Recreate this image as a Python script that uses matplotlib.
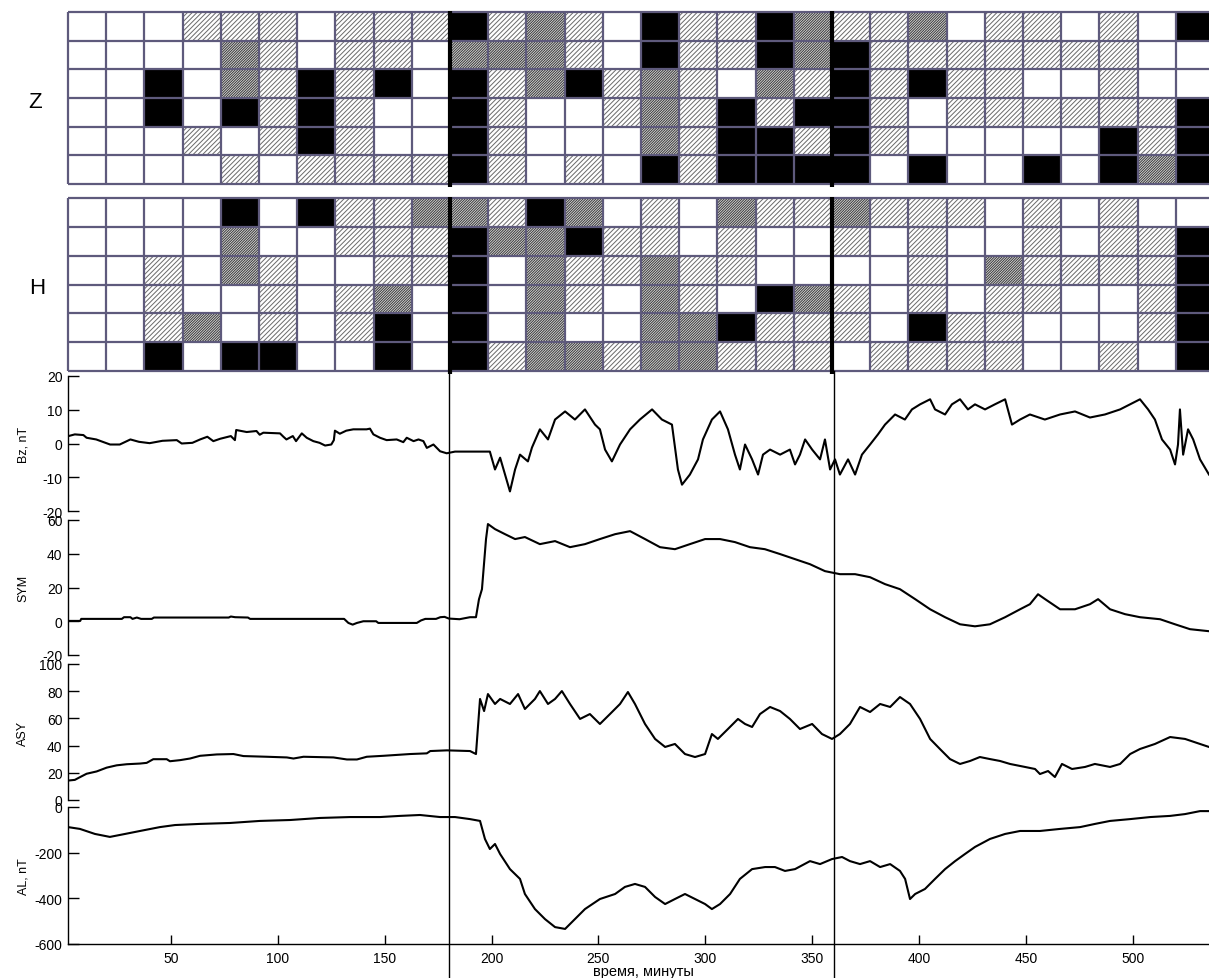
import matplotlib
matplotlib.use('Agg')
import matplotlib.pyplot as plt
from matplotlib.patches import Rectangle
from matplotlib.lines import Line2D

plt.rcParams['font.family'] = ['Liberation Sans', 'DejaVu Sans']
plt.rcParams['hatch.linewidth'] = 0.7
plt.rcParams['axes.unicode_minus'] = False

# cell levels per 18-min bin: 0 empty, 1 hatched, 2 dense hatched, 3 black
z_cells = [
    "000111011131210311321120110103",
    "000021011022210311323111111100",
    "003021313031231210213131100100",
    "003031310031001213133101111113",
    "000101310031000213313100000313",
    "000010111131010313333030030323",
]
h_cells = [
    "000030311221320102112111010100",
    "000020011132231101001010010113",
    "001021001130211211000010211113",
    "001001012030210210321010110013",
    "001201013030200223111031100013",
    "003033003031221221110111100103",
]

# (minute, value)
bz = [(2, 2.2), (5, 2.7), (9, 2.5), (10.5, 1.7), (15, 1.2), (21.5, -0.3), (26, -0.3),
      (31, 1.2), (35, 0.5), (40, 0.1), (46, 0.8), (52.7, 1.0), (55, 0), (60, 0.2),
      (63.6, 1.2), (67, 2.0), (69.8, 0.7), (73, 1.4), (78, 2.2), (79.9, 1.0), (80.5, 4.0),
      (85.4, 3.4), (90, 3.7), (91.5, 2.6), (93.2, 3.2), (101, 3.0), (102.6, 2.0), (104, 1.2),
      (107, 2.2), (108.5, 0.7), (111.2, 3.0), (113.5, 1.7), (116.6, 0.7), (119.5, 0.2),
      (122.1, -0.6), (125, -0.3), (126.2, 1.0), (126.7, 3.8), (129, 2.9), (132, 3.8),
      (135.3, 4.2), (141.5, 4.2), (143.1, 4.4), (144.7, 2.7), (147.8, 1.7), (150.9, 1.0),
      (155.6, 1.2), (158.7, 0.4), (160.3, 1.7), (163.5, 0.7), (165.8, 1.2), (168.1, 0.7),
      (169.7, -1.3), (172.8, -0.3), (175.9, -2.3), (179, -2.9), (182.9, -2.4), (199.2, -2.4),
      (201.6, -7.7), (204, -4.2), (206.3, -9.2), (208.6, -14.2), (211, -7.7), (213.3, -3.3),
      (217, -5.3), (218.9, -1.2), (222.6, 4.2), (226.4, 1.2), (229.7, 7.1), (234.4, 9.5),
      (239, 7.1), (243.7, 10.1), (248.4, 5.6), (250.7, 4.2), (253.1, -1.8), (256.3, -5.3),
      (260.1, -0.3), (264.8, 4.2), (269.4, 7.1), (275.1, 10.1), (279.7, 7.1), (284.4, 5.6),
      (287.2, -7.7), (289.1, -12.2), (292.8, -9.2), (296.6, -4.7), (298.9, 1.2), (303.1, 7.1),
      (306.9, 9.5), (310.6, 4.2), (313.9, -3.3), (316.2, -7.7), (318.6, -0.3), (321.9, -4.7),
      (324.7, -9.2), (327, -3.3), (330.3, -1.8), (335, -3.3), (339.6, -1.8), (342, -6.2),
      (344.3, -3.3), (346.7, 1.2), (350, -1.8), (353.7, -4.7), (356, 1.2), (358.4, -7.7),
      (360.7, -4.7), (363, -9.2), (366.8, -4.7), (370.1, -9.2), (373.3, -3.3), (377.1, -0.3),
      (380.8, 2.7), (384.1, 5.6), (388.8, 8.6), (393.4, 7.1), (396.7, 10.1), (400.5, 11.6),
      (405.2, 13.1), (407.5, 10.1), (412.2, 8.6), (415.4, 11.6), (419.2, 13.1), (422.9, 10.1),
      (426.2, 11.6), (430.9, 10.1), (435.5, 11.6), (440.3, 13.1), (443.5, 5.6), (447.3, 7.1),
      (451.9, 8.6), (458.9, 7.1), (466, 8.6), (473, 9.5), (480, 7.7), (487, 8.6), (494.1, 10.1),
      (498.8, 11.6), (503.4, 13.1), (507.2, 10.1), (510.4, 7.1), (513.7, 1.2), (517.5, -1.8),
      (519.8, -6.2), (521.2, -0.3), (522.1, 10.1), (523.6, -3.3), (525.9, 4.2), (528.3, 1.2),
      (531.5, -4.7), (535.7, -9.2)]

sym = [(2, 0.2), (7.5, 0.2), (8, 1.4), (27, 1.4), (28, 2.4), (31, 2.4), (32, 1.4), (34, 2.2),
       (36, 1.4), (41, 1.4), (42, 2.2), (77, 2.2), (78, 2.8), (80, 2.4), (86, 2.2), (87, 1.4),
       (131, 1.4), (133, -1), (135, -2), (137, -1), (140, 0), (146, 0), (147, -1), (165, -1),
       (167, 0.5), (169, 1.4), (174, 1.4), (176, 2.4), (178, 2.6), (180, 1.6), (185, 1.2),
       (189.9, 2.4), (192.7, 2.4), (194.1, 13), (195.5, 19), (197.4, 48.7), (198.3, 57.6),
       (201.6, 54.6), (206.3, 51.6), (211, 48.7), (215.6, 49.9), (222.6, 45.7), (229.7, 47.5),
       (236.7, 43.9), (243.7, 45.7), (250.7, 48.7), (257.8, 51.6), (264.8, 53.4), (271.8, 48.7),
       (278.8, 43.9), (285.8, 42.7), (292.8, 45.7), (299.9, 48.7), (306.9, 48.7), (313.9, 46.9),
       (320.9, 43.9), (327.9, 42.7), (335, 39.8), (342, 36.8), (349, 33.8), (356, 29.7),
       (363, 27.9), (370.1, 27.9), (377.1, 26.1), (384.1, 22), (391.1, 19), (398.2, 13.1),
       (405.2, 7.1), (412.2, 2.4), (419.2, -1.8), (426.2, -3), (433.2, -1.8), (440.3, 2.4),
       (447.3, 7.1), (451.9, 10.1), (455.7, 16), (459, 13.1), (466, 7.1), (473, 7.1),
       (480, 10.1), (483.8, 13.1), (489.4, 7.1), (496.4, 4.2), (503.4, 2.4), (512.8, 1.2),
       (519.8, -1.8), (526.8, -4.7), (535.7, -5.9)]

asy = [(1.9, 14.3), (5, 14.8), (7.4, 16.8), (10.5, 19.3), (15.2, 21), (19.9, 23.8), (24.6, 25.5),
       (29.3, 26.3), (35.5, 26.8), (38.6, 27.3), (41.7, 30), (48, 30), (49.5, 28.5), (54.2, 29.3),
       (58.9, 30.5), (63.6, 32.5), (71.4, 33.5), (79.2, 33.8), (83.9, 32.3), (94.8, 31.8),
       (104.2, 31.3), (107.3, 30.5), (112, 31.8), (126, 31.3), (132.3, 29.8), (137, 29.8),
       (141.6, 31.8), (149.4, 32.5), (161.9, 33.8), (169.7, 34.3), (171.3, 36), (179.1, 36.5),
       (189.9, 36), (192.7, 33.8), (194.6, 74.3), (196.5, 65.4), (198.3, 77.9), (201.6, 70.6),
       (204, 74.3), (208.6, 70.6), (212.4, 77.9), (215.6, 66.9), (220.3, 74.3), (222.6, 80.1),
       (226.4, 70.6), (229.7, 74.3), (232.9, 80.1), (236.7, 70.6), (241.4, 59.6), (246, 63.2),
       (250.7, 55.9), (255.4, 63.2), (260.1, 70.6), (263.8, 79.4), (267.1, 70.6), (271.8, 55.9),
       (276.5, 44.9), (281.2, 39), (285.8, 41.2), (290.5, 33.8), (295.2, 31.6), (299.9, 33.8),
       (303.1, 48.5), (305.9, 44.9), (310.6, 52.2), (315.3, 59.6), (318.6, 55.9), (321.9, 53.7),
       (325.6, 63.2), (330.3, 68.4), (335, 65.4), (339.6, 59.6), (344.3, 52.2), (350, 55.9),
       (354.6, 48.5), (359.3, 44.9), (363, 48.5), (367.7, 55.9), (372.4, 68.4), (377.1, 64.7),
       (381.8, 70.6), (386.5, 68.4), (391.1, 75.7), (395.8, 70.6), (400.5, 59.6), (405.2, 44.9),
       (409.8, 37.5), (414.5, 30.1), (419.2, 26.5), (423.9, 28.7), (428.5, 31.6), (433.2, 30.1),
       (437.9, 28.7), (442.6, 26.5), (449.6, 24.3), (454.3, 22.8), (456.6, 19.1), (460.4, 21.3),
       (463.6, 16.9), (466.9, 26.5), (471.6, 22.8), (477.7, 24.3), (482.3, 26.5), (489.4, 24.3),
       (494.1, 26.5), (498.8, 33.8), (503.4, 37.5), (510.4, 41.2), (517.5, 46.3), (524.5, 44.9),
       (531.5, 41.2), (535.7, 39)]

al = [(1.8, -88), (7.4, -96), (14.4, -118), (21.4, -131), (28.5, -118), (35.5, -105), (44.8, -88),
      (51.9, -79), (63.6, -74), (77.6, -70), (91.6, -61), (105.7, -57), (119.7, -48), (133.8, -44),
      (147.8, -44), (157.1, -39), (166.5, -35), (175.9, -44), (182.9, -44), (189.9, -53),
      (194.6, -61), (196.9, -140), (199.2, -184), (201.6, -162), (204, -206), (208.6, -272),
      (213.3, -315), (215.6, -381), (220.3, -447), (225, -491), (229.7, -526), (234.4, -534),
      (239, -491), (243.7, -447), (250.7, -403), (257.8, -381), (262.4, -350), (267.1, -337),
      (271.8, -350), (276.5, -394), (281.2, -425), (285.8, -403), (290.5, -381), (295.2, -403),
      (299.9, -425), (303.1, -447), (306.9, -425), (311.6, -381), (316.2, -315), (321.9, -272),
      (328, -263), (332.6, -263), (337.3, -280), (342, -272), (349, -237), (353.7, -250),
      (359.3, -228), (364, -219), (367.7, -237), (372.4, -250), (377.1, -237), (381.8, -263),
      (386.5, -250), (391.1, -280), (393.5, -315), (395.8, -403), (398.2, -381), (402.8, -359),
      (407.5, -315), (412.2, -272), (416.9, -237), (421.5, -206), (426.2, -175), (433.2, -140),
      (440.3, -118), (447.3, -105), (456.6, -105), (466, -96), (475.4, -88), (482.4, -74),
      (489.4, -61), (498.8, -53), (508.2, -44), (517.5, -39), (524.5, -31), (531.5, -18),
      (535.7, -18)]

markers = [180, 360]
xticks = [50, 100, 150, 200, 250, 300, 350, 400, 450, 500]

W, H = 1209, 979
fig = plt.figure(figsize=(W / 100, H / 100), dpi=100)


def fig_rect(left, top, right, bottom):
    return [left / W, 1 - bottom / H, (right - left) / W, (bottom - top) / H]


grid_color = '#5e5a7c'
cell_style = {
    1: dict(facecolor='white', edgecolor='#6a6a6a', hatch='/' * 7),
    2: dict(facecolor='#dcdcdc', edgecolor='#3a3a3a', hatch='/' * 13),
    3: dict(facecolor='black', edgecolor='black', hatch=None),
}


def draw_grid(ax, cells):
    nrows, ncols = len(cells), len(cells[0])
    for i, row in enumerate(cells):
        for j, c in enumerate(row):
            lev = int(c)
            if lev == 0:
                continue
            ax.add_patch(Rectangle((j, i), 1, 1, linewidth=0, **cell_style[lev]))
    ax.hlines(range(nrows + 1), 0, ncols, color=grid_color, lw=1.6, clip_on=False)
    ax.vlines(range(ncols + 1), 0, nrows, color=grid_color, lw=1.6, clip_on=False)
    ax.vlines([10, 20], -0.02, nrows + 0.1, color='black', lw=3, clip_on=False)
    ax.set_xlim(0, ncols)
    ax.set_ylim(nrows, 0)
    ax.axis('off')


ax_z = fig.add_axes(fig_rect(68, 13, 1214, 185))
draw_grid(ax_z, z_cells)
ax_h = fig.add_axes(fig_rect(68, 199, 1214, 372))
draw_grid(ax_h, h_cells)
fig.text(35 / W, 1 - 102 / H, 'Z', fontsize=16, ha='center', va='center')
fig.text(37 / W, 1 - 288 / H, 'H', fontsize=16, ha='center', va='center')

panels = [
    (bz, (377, 512), (-20, 20), [-20, -10, 0, 10, 20], 'Bz, nT'),
    (sym, (521, 656), (-20, 60), [-20, 0, 20, 40, 60], 'SYM'),
    (asy, (665, 801), (0, 100), [0, 20, 40, 60, 80, 100], 'ASY'),
    (al, (808, 945), (-600, 0), [-600, -400, -200, 0], 'AL, nT'),
]

axes = []
for data, (top, bottom), ylim, yticks, label in panels:
    ax = fig.add_axes(fig_rect(68, top, 1209, bottom))
    t, v = zip(*data)
    ax.plot(t, v, color='black', lw=1.5)
    ax.set_xlim(1.8, 535.7)
    ax.set_ylim(*ylim)
    ax.set_yticks(yticks)
    ax.patch.set_alpha(0)
    for s in ['top', 'right', 'bottom']:
        ax.spines[s].set_visible(False)
    ax.spines['left'].set_linewidth(1.0)
    ax.tick_params(axis='y', direction='in', length=8, width=1.0, pad=4, labelsize=10)
    ax.tick_params(axis='x', bottom=False, labelbottom=False)
    fig.text(23 / W, 1 - (top + bottom) / 2 / H, label, rotation=90,
             ha='center', va='center', fontsize=9)
    axes.append(ax)

ax_al = axes[-1]
ax_al.spines['bottom'].set_visible(True)
ax_al.spines['bottom'].set_linewidth(1.0)
ax_al.set_xticks(xticks)
ax_al.tick_params(axis='x', bottom=True, labelbottom=True, direction='in',
                  length=6.5, width=1.0, pad=5, labelsize=10)
fig.text(643 / W, 1 - 972 / H, 'время, минуты', ha='center', va='center', fontsize=10.5)

# storm markers through the index panels
for m in markers:
    xf = fig.transFigure.inverted().transform(ax_al.transData.transform((m, 0)))[0]
    fig.add_artist(Line2D([xf, xf], [1 - 372 / H, 1 - 978 / H], color='black', lw=1.0))

fig.savefig('out.png', dpi=100)
